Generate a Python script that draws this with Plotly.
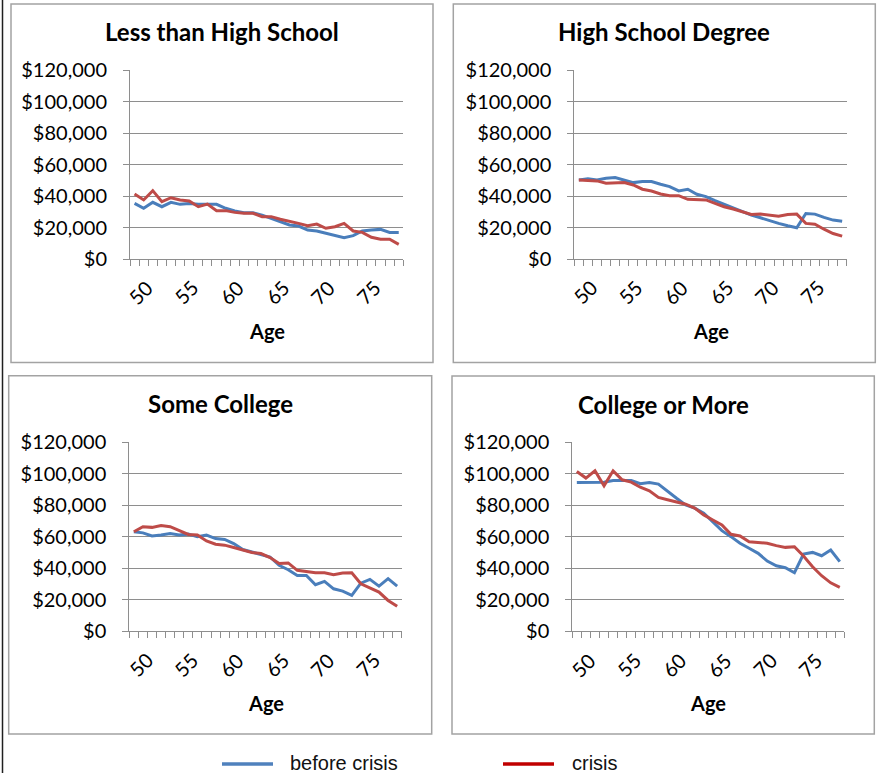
import plotly.graph_objects as go

W, H = 882, 773

ages = list(range(48, 78))
age_ticks = [50, 55, 60, 65, 70, 75]
y_ticks = [0, 20000, 40000, 60000, 80000, 100000, 120000]

panel_titles = ["Less than High School", "High School Degree", "Some College", "College or More"]
series_names = ["before crisis", "crisis"]

lths_before = [35300, 32200, 36000, 33200, 36000, 34700, 35300, 34700, 34700, 34700,
               32200, 30500, 29400, 29400, 27900, 25800, 23700, 21600, 20900, 18400,
               17800, 16300, 14800, 13500, 14800, 17800, 18400, 18800, 16900, 16900]
lths_crisis = [41300, 37500, 43400, 36400, 38900, 37500, 36800, 33200, 34900, 30700,
               30700, 29600, 29000, 29000, 26900, 26900, 25200, 23700, 22600, 21200,
               22200, 19500, 20500, 22600, 17800, 16900, 13800, 12500, 12500, 9300]

hs_before = [50200, 50900, 50200, 51300, 51700, 50200, 48500, 49200, 49200, 47500,
             46000, 43200, 44300, 41100, 39600, 37000, 34700, 32800, 30400, 27900,
             26200, 24300, 22600, 21100, 19800, 28900, 28500, 26400, 24700, 24000]
hs_crisis = [50200, 49800, 49600, 48100, 48500, 48500, 47000, 44300, 43200, 41300,
             40200, 40200, 37900, 37500, 37500, 35300, 33200, 31700, 30000, 28300,
             28500, 27900, 27200, 28300, 28500, 22600, 22100, 18900, 16200, 14500]

sc_before = [63000, 62300, 60400, 60900, 61900, 60900, 61500, 59800, 60900, 58700,
             58100, 55500, 51700, 50200, 48700, 47000, 41700, 38900, 35300, 35300,
             29400, 31500, 26800, 25300, 22600, 30400, 32800, 28500, 33200, 28500]
sc_crisis = [63000, 66200, 65800, 67000, 66200, 64000, 61300, 60900, 57200, 55100,
             54500, 53000, 51300, 49800, 49200, 46600, 42800, 43200, 38500, 37900,
             37000, 37000, 35700, 36800, 37000, 30000, 27400, 24700, 19400, 15700]

cm_before = [94300, 94300, 94500, 94500, 95600, 95400, 95600, 93500, 94300, 93300,
             88600, 84300, 80100, 78000, 74800, 69500, 63700, 59900, 55700, 52500,
             49300, 44400, 41400, 40200, 37000, 48900, 49900, 47800, 51400, 44000]
cm_crisis = [101300, 97100, 101700, 92200, 101700, 96000, 94500, 91300, 89000, 84800,
             83300, 81800, 80500, 78000, 73700, 70500, 67300, 61400, 60300, 56700,
             56300, 55700, 54200, 53100, 53500, 47600, 40800, 35100, 30600, 27700]

before = [lths_before, hs_before, sc_before, cm_before]
crisis = [lths_crisis, hs_crisis, sc_crisis, cm_crisis]

BLUE = "#4a7ebb"
RED = "#be4b48"
LEG_BLUE = "#4f81bd"
LEG_RED = "#c00000"
GRID = "#8e8e8e"
BOX = "#a3a3a3"

# pixel layout of each panel: plot area (x0, x1, ytop, ybot) and outer box
plots = [(130, 403.3, 70, 259), (574.3, 846.7, 70, 259),
         (129.3, 401.7, 442, 631), (572.3, 844.3, 442, 631)]
boxes = [(11, 433, 4, 362.5), (453.3, 875.3, 4, 362.5),
         (8.7, 431.7, 375.7, 734), (452, 874.3, 376, 734)]

def fx(px):
    return px / W

def fy(py):
    return 1 - py / H

fig = go.Figure()
layout = dict(width=W, height=H, autosize=False,
              margin=dict(l=0, r=0, t=0, b=0, pad=0, autoexpand=False),
              paper_bgcolor="white", plot_bgcolor="white", showlegend=False)
shapes = []
annotations = []

for i in range(4):
    n = "" if i == 0 else str(i + 1)
    xa, ya = "x" + n, "y" + n
    fig.add_trace(go.Scatter(x=ages, y=before[i], mode="lines", name=series_names[0],
                             line=dict(color=BLUE, width=3), xaxis=xa, yaxis=ya))
    fig.add_trace(go.Scatter(x=ages, y=crisis[i], mode="lines", name=series_names[1],
                             line=dict(color=RED, width=3), xaxis=xa, yaxis=ya))
    x0, x1, yt, yb = plots[i]
    layout["xaxis" + n] = dict(
        domain=[fx(x0), fx(x1)], anchor=ya, range=[47.5, 77.5],
        tickmode="array", tickvals=age_ticks, showticklabels=False,
        ticks="", showgrid=False, zeroline=False, automargin=False,
        showline=True, linecolor=GRID, linewidth=1,
        minor=dict(tickmode="linear", tick0=47.5, dtick=1, ticks="outside",
                   ticklen=6, tickcolor=GRID, tickwidth=1, showgrid=False),
    )
    layout["yaxis" + n] = dict(
        domain=[fy(yb), fy(yt)], anchor=xa, range=[0, 120000], automargin=False,
        tickmode="array", tickvals=y_ticks,
        ticktext=["$" + format(v, ",d") for v in y_ticks],
        ticks="outside", ticklen=6, tickcolor=GRID, tickwidth=1, ticklabelstandoff=12,
        showgrid=True, gridcolor=GRID, gridwidth=1, zeroline=False,
        showline=True, linecolor=GRID, linewidth=1,
        tickfont=dict(family="Lato", size=20, color="black"),
    )
    # rotated category labels, placed through the x axis scale
    for a in age_ticks:
        annotations.append(dict(text=str(a), xref=xa, yref="paper", x=a, xshift=-12,
                                y=fy(yb + 33.5), xanchor="center", yanchor="middle",
                                textangle=-45, showarrow=False,
                                font=dict(family="Lato", size=20, color="black")))
    bx0, bx1, by0, by1 = boxes[i]
    shapes.append(dict(type="rect", xref="paper", yref="paper",
                       x0=fx(bx0), x1=fx(bx1), y0=fy(by1), y1=fy(by0),
                       line=dict(color=BOX, width=1.5), layer="below"))
    annotations.append(dict(text="<b>" + panel_titles[i] + "</b>", xref="paper", yref="paper",
                            x=fx((bx0 + bx1) / 2), y=fy(by0 + 28), xanchor="center", yanchor="middle",
                            showarrow=False, font=dict(family="Lato", size=24, color="black")))
    annotations.append(dict(text="<b>Age</b>", xref="paper", yref="paper",
                            x=fx((x0 + x1) / 2), y=fy(yb + 72), xanchor="center", yanchor="middle",
                            showarrow=False, font=dict(family="Lato", size=20, color="black")))

# outer left frame line
shapes.append(dict(type="line", xref="paper", yref="paper", x0=fx(2.5), x1=fx(2.5), y0=0, y1=1,
                   line=dict(color="#202020", width=1.5)))

# legend
leg = [(222, 273, 288, LEG_BLUE, series_names[0]), (503, 554, 570, LEG_RED, series_names[1])]
for lx0, lx1, tx, col, name in leg:
    shapes.append(dict(type="line", xref="paper", yref="paper", x0=fx(lx0), x1=fx(lx1),
                       y0=fy(764), y1=fy(764), line=dict(color=col, width=3.5)))
    annotations.append(dict(text=name, xref="paper", yref="paper", x=fx(tx), y=fy(763),
                            xanchor="left", yanchor="middle", showarrow=False,
                            font=dict(family="Liberation Sans", size=20, color="#111111")))

layout["shapes"] = shapes
layout["annotations"] = annotations
fig.update_layout(**layout)
fig.write_html("out.html", config={"displayModeBar": False},
               post_script="document.body.style.margin='0';document.body.style.padding='0';"
                           "document.documentElement.style.overflow='hidden';")
